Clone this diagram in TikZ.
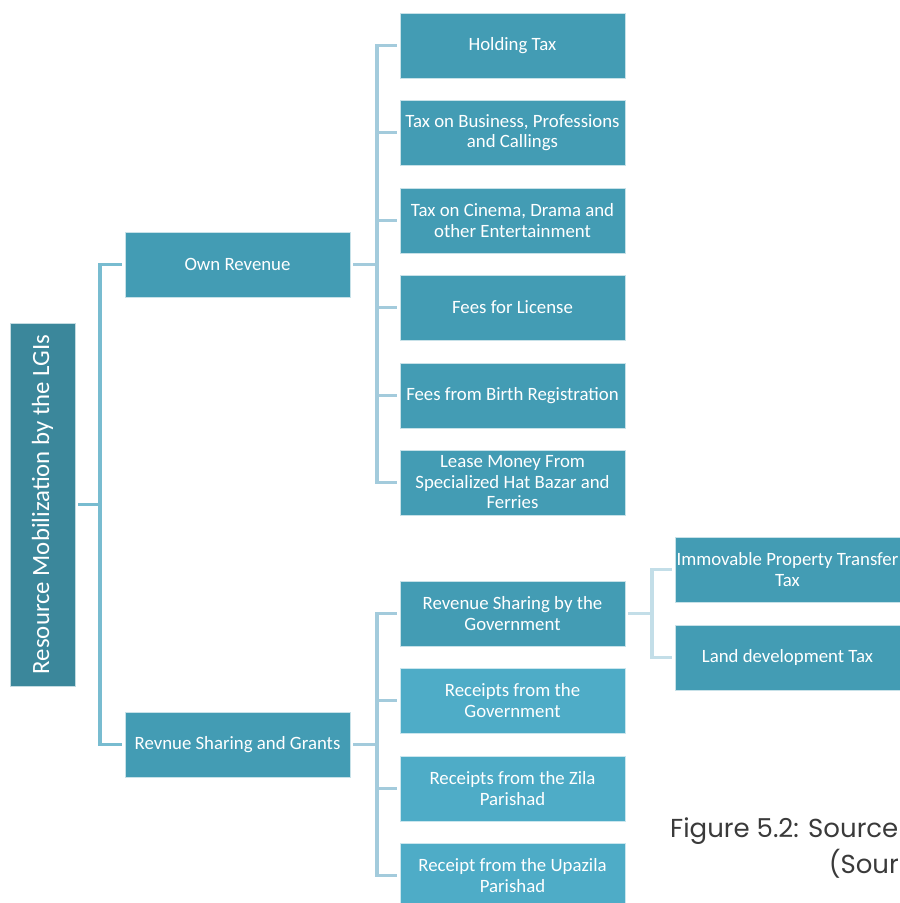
\documentclass[tikz,border=0pt]{standalone}
\usepackage{fontspec}
\setmainfont{Carlito}
\newfontfamily\capfont{Poppins}
\definecolor{rootc}{HTML}{3B879B}
\definecolor{boxc}{HTML}{439CB4}
\definecolor{lboxc}{HTML}{4EACC7}
\definecolor{conA}{HTML}{78BCD0}
\definecolor{conB}{HTML}{A3CBDC}
\definecolor{conC}{HTML}{C3DEE8}
\definecolor{capc}{HTML}{3A3A3A}
\tikzset{
  x=1pt,y=1pt,
  bx/.style={rectangle, fill=boxc, draw=white!70!boxc, line width=0.6pt, text=white,
    minimum width=225pt, minimum height=65pt, inner sep=0pt, align=center,
    font=\fontsize{18.8}{20.5}\selectfont},
  lbx/.style={bx, fill=lboxc, draw=white!70!lboxc},
  rootbox/.style={rectangle, fill=rootc, draw=white!70!rootc, line width=0.6pt, text=white,
    minimum width=65pt, minimum height=363pt, inner sep=0pt,
    font=\fontsize{24.8}{28}\selectfont},
  conn/.style={line width=3.6pt, shorten <=3pt, shorten >=3pt},
  captxt/.style={inner sep=0pt, text=capc, font=\capfont\fontsize{26}{30}\selectfont},
}
\begin{document}
\begin{tikzpicture}
\useasboundingbox (0,0) rectangle (900,903);
\clip (0,0) rectangle (900,903);
% nodes
\node[rootbox] (root) at (42.5,398.5) {\rotatebox{90}{Resource Mobilization by the LGIs}};
\node[bx] (own) at (237.5,638.5) {Own Revenue};
\node[bx] (rsg) at (237.5,158.5) {Revnue Sharing and Grants};
\node[bx] (hold) at (512.5,857.5) {Holding Tax};
\node[bx] (bus) at (512.5,770.5) {Tax on Business, Professions\\and Callings};
\node[bx] (cin) at (512.5,682.5) {Tax on Cinema, Drama and\\other Entertainment};
\node[bx] (lic) at (512.5,595.5) {Fees for License};
\node[bx] (birth) at (512.5,507.5) {Fees from Birth Registration};
\node[bx] (lease) at (512.5,420.5) {Lease Money From\\Specialized Hat Bazar and\\Ferries};
\node[bx] (rgov) at (512.5,289.5) {Revenue Sharing by the\\Government};
\node[lbx] (recg) at (512.5,202.5) {Receipts from the\\Government};
\node[lbx] (zila) at (512.5,114.5) {Receipts from the Zila\\Parishad};
\node[lbx] (upa) at (512.5,27.5) {Receipt from the Upazila\\Parishad};
\node[bx] (imm) at (787.5,333.5) {Immovable Property Transfer\\Tax};
\node[bx] (land) at (787.5,245.5) {Land development Tax};
% junctions
\coordinate (j1) at (100,398.5);
\coordinate (j2) at (377,638.5);
\coordinate (j3) at (377,158.5);
\coordinate (j4) at (652,289.5);
% connectors
\draw[conn, conA, shorten >=0pt] (root.east) -- (j1);
\foreach \t in {own,rsg} \draw[conn, conA, shorten <=0pt] (j1) |- (\t.west);
\draw[conn, conB, shorten >=0pt] (own.east) -- (j2);
\foreach \t in {hold,bus,cin,lic,birth,lease} \draw[conn, conB, shorten <=0pt] (j2) |- (\t.west);
\draw[conn, conB, shorten >=0pt] (rsg.east) -- (j3);
\foreach \t in {rgov,recg,zila,upa} \draw[conn, conB, shorten <=0pt] (j3) |- (\t.west);
\draw[conn, conC, shorten >=0pt] (rgov.east) -- (j4);
\foreach \t in {imm,land} \draw[conn, conC, shorten <=0pt] (j4) |- (\t.west);
% caption
\node[captxt, anchor=base west] (cap1) at (670,65) {Figure 5.2: Source};
\node[captxt, anchor=base east] (cap2) at (899,29) {(Sour};
\end{tikzpicture}
\end{document}
